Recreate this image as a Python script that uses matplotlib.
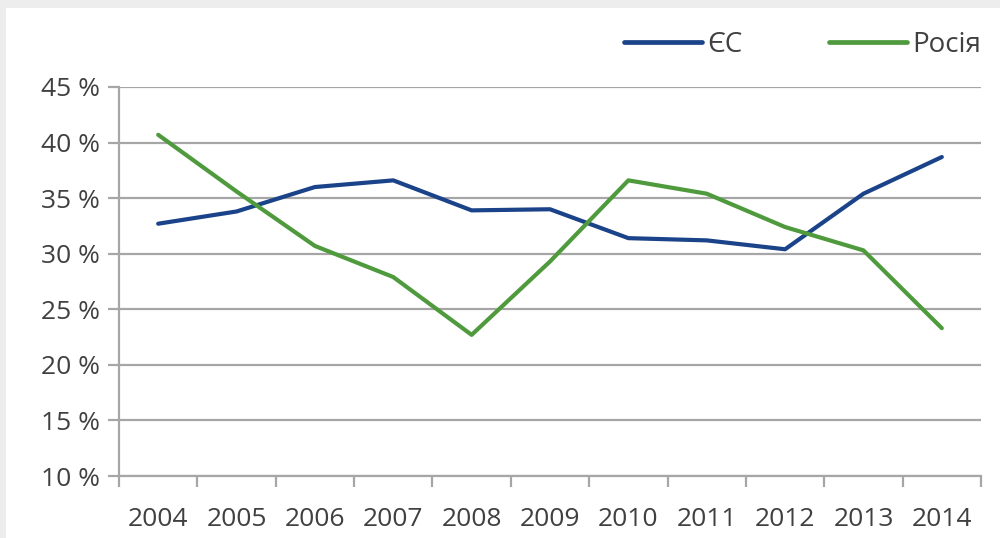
import matplotlib
matplotlib.use("Agg")
import matplotlib.pyplot as plt
from matplotlib.patches import Rectangle

years = ["2004", "2005", "2006", "2007", "2008", "2009", "2010", "2011", "2012", "2013", "2014"]
eu = [32.7, 33.8, 36.0, 36.6, 33.9, 34.0, 31.4, 31.2, 30.4, 35.4, 38.7]
russia = [40.7, 35.6, 30.7, 27.9, 22.7, 29.3, 36.6, 35.4, 32.4, 30.3, 23.3]
yticks = [10, 15, 20, 25, 30, 35, 40, 45]

plt.rcParams['font.family'] = ['Open Sans', 'DejaVu Sans']
text_color = '#404040'
grid_color = '#A6A6A6'

fig = plt.figure(figsize=(10, 5.38), dpi=100)
fig.patch.set_facecolor('white')
# screenshot shadow bands
fig.patches.append(Rectangle((0, 1 - 8/538), 1, 8/538, transform=fig.transFigure,
                             facecolor='#EDEDED', edgecolor='none', zorder=0))
fig.patches.append(Rectangle((0, 0), 6/1000, 1, transform=fig.transFigure,
                             facecolor='#EDEDED', edgecolor='none', zorder=0))

ax = fig.add_axes([0.119, 1 - 476/538, 0.862, (476 - 87)/538])
x = list(range(len(years)))
ax.plot(x, eu, color='#1A4389', lw=3.0, label='ЄС', solid_capstyle='round', zorder=3)
ax.plot(x, russia, color='#4E9A3C', lw=3.0, label='Росія', solid_capstyle='round', zorder=3)

ax.set_xlim(-0.5, len(years) - 0.5)
ax.set_ylim(10, 45)
ax.set_yticks(yticks)
ax.set_yticklabels([f"{v} %" for v in yticks])
ax.grid(axis='y', color=grid_color, lw=1.6, zorder=1)
ax.set_axisbelow(True)

ax.set_xticks([i - 0.5 for i in range(len(years) + 1)])
ax.set_xticklabels([])
ax.set_xticks(x, minor=True)
ax.set_xticklabels(years, minor=True)
ax.tick_params(axis='x', which='major', length=8, width=1.6, color=grid_color, direction='out')
ax.tick_params(axis='x', which='minor', length=0, pad=22, labelsize=19, labelcolor=text_color)
ax.tick_params(axis='y', length=8, width=1.6, color=grid_color, pad=6, labelsize=19, labelcolor=text_color)

for s in ['top', 'right']:
    ax.spines[s].set_visible(False)
for s in ['left', 'bottom']:
    ax.spines[s].set_color(grid_color)
    ax.spines[s].set_linewidth(1.6)

leg = ax.legend(loc='center right', bbox_to_anchor=(1.0, 1 + 42/389), ncol=2, frameon=False,
                fontsize=20, handlelength=2.8, columnspacing=3.1, handletextpad=0.2,
                borderaxespad=0, borderpad=0, labelcolor=text_color)
for h in leg.get_lines():
    h.set_linewidth(3.4)

fig.savefig('out.png', dpi=100)
